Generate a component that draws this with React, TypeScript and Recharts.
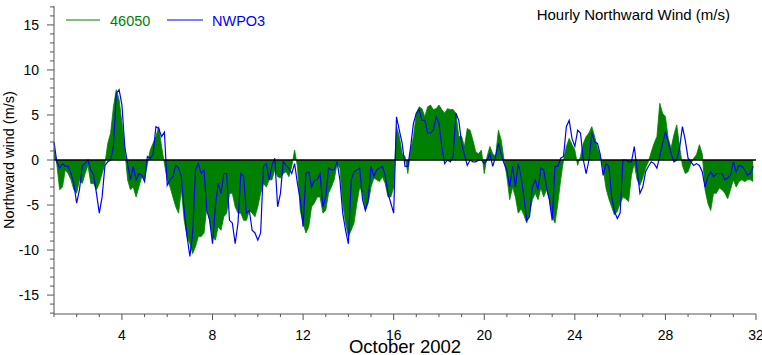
import React from 'react';
import { ComposedChart, Area, Line, XAxis, YAxis, ReferenceLine } from 'recharts';

// Hourly record resampled at 3 h: first sample is 1 Oct 00Z
const START_DAY = 1;
const STEP_DAYS = 0.125;

// Buoy 46050 northward wind (m/s), 8 samples per day, 1-31 Oct
const buoy46050: number[] = [
  1.3, -0.5, -3.3, -3.0, -1.1, -1.5, -2.2, -3.3,
  -3.7, -2.2, -2.6, -1.5, -0.6, -2.6, -2.6, -3.3,
  -2.6, -1.5, -0.4, 1.85, 3.0, 5.9, 7.8, 6.7,
  4.1, 1.1, -2.2, -3.3, -3.0, -4.1, -3.0, -1.85,
  -2.2, -0.4, 1.1, 1.85, 2.6, 3.7, 1.5, -0.4,
  -2.2, -3.0, -4.1, -5.2, -5.9, -3.3, -6.7, -8.5,
  -9.3, -10.4, -9.6, -8.5, -8.5, -8.1, -5.2, -6.7,
  -8.5, -8.9, -7.4, -7.8, -6.3, -5.9, -3.7, -3.7,
  -5.2, -5.9, -5.9, -6.7, -6.7, -5.6, -5.9, -6.3,
  -5.2, -3.7, -2.6, -3.0, -2.2, -2.2, -1.1, -1.85,
  -2.0, -1.5, -1.3, -1.85, -0.7, 1.1, -0.7, -5.6,
  -7.0, -8.1, -7.4, -5.2, -4.8, -4.1, -4.1, -5.9,
  -5.6, -3.7, -3.0, -2.2, -0.4, -0.9, -4.8, -7.0,
  -8.5, -7.8, -7.0, -4.8, -3.0, -3.7, -5.6, -4.8,
  -3.0, -2.0, -2.2, -2.4, -1.85, -2.6, -4.1, -4.1,
  -3.0, 3.7, 2.6, 0.7, 0.4, -1.5, 1.1, 2.6,
  5.2, 5.9, 5.7, 4.8, 5.9, 6.1, 5.6, 5.7,
  6.1, 5.6, 5.2, 5.7, 5.6, 5.6, 5.2, 2.6,
  2.6, 1.5, 3.5, 3.3, 2.2, 0.9, 0.7, 1.1,
  -1.5, 0.4, 1.5, 0.7, 0.4, 3.3, 2.2, 0,
  -1.85, -4.4, -3.0, -4.1, -5.9, -5.4, -6.1, -7.0,
  -5.9, -4.4, -3.7, -4.4, -3.1, -4.1, -3.3, -4.4,
  -6.3, -7.0, -4.8, -2.2, 0, 1.5, 2.4, 1.7,
  1.1, -0.6, 0.4, 1.85, 2.6, 3.0, 3.7, 2.6,
  1.3, 0.4, -0.9, -3.1, -4.3, -5.2, -6.1, -5.7,
  -4.8, -4.1, -4.3, -4.6, -1.7, -0.4, -2.2, -2.8,
  -2.0, -0.9, -0.2, 0.9, 1.85, 2.6, 6.3, 5.2,
  4.8, 2.4, 1.3, 2.8, 3.9, 1.5, -0.6, -1.5,
  -1.3, -0.4, 0.2, 0.6, 1.7, 0.7, -3.3, -4.8,
  -5.6, -3.7, -3.7, -3.1, -3.3, -3.7, -4.3, -3.3,
  -2.2, -3.0, -2.4, -2.2, -2.4, -2.2, -2.2, -2.4,
];

// NWPO3 (Newport) northward wind (m/s), same sampling
const nwpo3: number[] = [
  2.0, -0.2, -0.9, -0.4, -0.7, -0.7, -1.5, -2.6,
  -4.8, -3.3, -0.6, -0.4, 0, -1.1, -1.7, -3.7,
  -5.9, -4.1, -0.6, -0.2, 0, 1.5, 7.4, 7.8,
  6.1, 1.5, -0.4, -2.2, -0.7, -2.2, -1.5, -1.7,
  -2.4, 0.4, 0.2, 0.6, 3.7, 3.5, 2.6, 3.1,
  -2.8, -2.2, -1.85, -0.6, -0.9, -1.85, -5.6, -8.5,
  -10.7, -8.1, -1.1, -0.4, -1.5, -1.1, -5.6, -6.7,
  -9.3, -5.2, -2.6, -3.7, -1.5, -1.5, -6.7, -7.0,
  -9.3, -7.0, -1.5, -1.85, -5.9, -5.6, -7.8, -8.1,
  -8.9, -8.1, -0.7, -0.4, -2.2, -0.6, 0.2, -5.2,
  -3.7, -0.2, -0.6, -0.9, -1.5, -0.4, -2.6, -4.4,
  -7.4, -1.5, -1.3, -3.0, -2.2, -2.2, -1.5, -5.2,
  -4.1, -0.9, -1.1, -1.1, -0.2, -2.2, -5.9, -7.8,
  -9.3, -2.2, -1.3, -1.1, -0.9, -4.4, -5.6, -4.4,
  -0.7, -1.85, -1.1, -0.9, -0.7, -1.7, -3.7, -4.8,
  -5.9, 4.8, 3.3, 1.85, -0.7, -0.7, 1.5, 4.1,
  5.2, 5.6, 4.4, 4.4, 3.0, 3.0, 3.3, 4.8,
  4.1, 1.5, -0.4, 0, -0.2, 0.4, 5.2, 4.4,
  1.85, 0.6, -0.6, 0, -0.2, -0.2, 0, 0,
  -0.4, 0, 0.7, -0.7, 0.4, 1.85, 0.6, -0.4,
  -1.1, -3.0, -0.7, -3.0, -0.4, -1.85, -4.1, -6.7,
  -6.3, -3.0, -2.2, -3.3, -0.9, -1.1, -3.0, -4.4,
  -6.7, -0.7, -0.7, 0.2, 0.4, 3.7, 4.4, 2.4,
  1.5, 3.3, 3.0, 0, -1.5, 0, 3.0, 2.0,
  1.85, 0.6, -1.7, -0.4, -0.7, -4.1, -5.7, -6.5,
  -5.9, 0, 0, -0.2, -0.2, 1.5, -1.1, -3.7,
  -3.0, -1.3, -0.7, -0.2, -0.4, -0.9, 0.4, 1.85,
  3.1, 2.0, 0.7, -0.2, 0, 1.3, 3.7, 2.2,
  0.2, -0.2, -0.6, -0.4, -0.6, -1.3, -3.0, -1.85,
  -1.3, -1.85, -1.5, -1.5, -1.5, -2.2, -2.0, -1.7,
  -0.2, -1.3, -0.6, -0.7, -1.1, -1.7, -1.5, -0.7,
];

const dayTicks = [
  1, 2, 3, 4, 5, 6, 7, 8, 9, 10, 11, 12, 13, 14, 15, 16,
  17, 18, 19, 20, 21, 22, 23, 24, 25, 26, 27, 28, 29, 30, 31, 32,
];
const labeledDays = [4, 8, 12, 16, 20, 24, 28, 32];
const windTicks = [
  -17, -16, -15, -14, -13, -12, -11, -10, -9, -8, -7, -6, -5, -4, -3, -2, -1, 0,
  1, 2, 3, 4, 5, 6, 7, 8, 9, 10, 11, 12, 13, 14, 15, 16, 17,
];
const labeledWind = [-15, -10, -5, 0, 5, 10, 15];

const data = buoy46050.map((g, i) => ({
  day: START_DAY + i * STEP_DAYS,
  g,
  b: nwpo3[i],
}));

const FONT = '"Liberation Sans", Arial, Helvetica, sans-serif';
const AXIS = '#555';
const GREEN = '#008000';
const BLUE = '#0000ff';
const Y_DOMAIN = [-17.1, 17.1];

function BottomTick({ x, y, payload }: any) {
  const major = labeledDays.includes(payload.value);
  return (
    <g>
      <line x1={x} x2={x} y1={y} y2={y + (major ? 6 : 3)} stroke={AXIS} />
      {major && (
        <text x={x} y={y + 25.5} textAnchor="middle" fontSize={14} fontFamily={FONT} fill="#000">
          {payload.value}
        </text>
      )}
    </g>
  );
}

function TopTick({ x, y, payload }: any) {
  const major = labeledDays.includes(payload.value);
  return <line x1={x} x2={x} y1={y} y2={y - (major ? 6 : 3)} stroke={AXIS} />;
}

function LeftTick({ x, y, payload }: any) {
  const major = labeledWind.includes(payload.value);
  return (
    <g>
      <line x1={x} x2={x - (major ? 7 : 4)} y1={y} y2={y} stroke={AXIS} />
      {major && (
        <text x={x - 15} y={y + 5} textAnchor="end" fontSize={14} fontFamily={FONT} fill="#000">
          {payload.value}
        </text>
      )}
    </g>
  );
}

function RightTick({ x, y, payload }: any) {
  const major = labeledWind.includes(payload.value);
  return <line x1={x} x2={x + (major ? 7 : 4)} y1={y} y2={y} stroke={AXIS} />;
}

export default function App() {
  return (
    <div style={{ position: 'absolute', left: 0, top: 0, width: 762, height: 355, fontFamily: FONT }}>
      <ComposedChart
        width={762}
        height={355}
        data={data}
        margin={{ top: 6, right: 6, bottom: 0, left: 0 }}
      >
        <XAxis
          dataKey="day"
          type="number"
          domain={[1, 32]}
          ticks={dayTicks}
          interval={0}
          height={41}
          tickSize={0}
          tickMargin={0}
          tickLine={false}
          axisLine={{ stroke: AXIS }}
          tick={<BottomTick />}
        />
        <XAxis
          xAxisId="top"
          orientation="top"
          dataKey="day"
          type="number"
          domain={[1, 32]}
          ticks={dayTicks}
          interval={0}
          height={0}
          tickSize={0}
          tickMargin={0}
          tickLine={false}
          axisLine={{ stroke: AXIS }}
          tick={<TopTick />}
        />
        <YAxis
          type="number"
          domain={Y_DOMAIN}
          ticks={windTicks}
          interval={0}
          width={54}
          tickSize={0}
          tickMargin={0}
          tickLine={false}
          axisLine={{ stroke: AXIS }}
          tick={<LeftTick />}
          allowDataOverflow
        />
        <YAxis
          yAxisId="right"
          orientation="right"
          type="number"
          domain={Y_DOMAIN}
          ticks={windTicks}
          interval={0}
          width={0}
          tickSize={0}
          tickMargin={0}
          tickLine={false}
          axisLine={{ stroke: AXIS }}
          tick={<RightTick />}
          allowDataOverflow
        />
        <Area
          type="linear"
          dataKey="g"
          baseValue={0}
          stroke={GREEN}
          strokeWidth={0.8}
          fill={GREEN}
          fillOpacity={1}
          isAnimationActive={false}
        />
        <Line
          type="linear"
          dataKey="b"
          stroke={BLUE}
          strokeWidth={1.2}
          dot={false}
          isAnimationActive={false}
        />
        <ReferenceLine y={0} stroke="#000" strokeWidth={1.6} />
      </ComposedChart>
      <svg
        width={762}
        height={355}
        style={{ position: 'absolute', left: 0, top: 0, pointerEvents: 'none' }}
        fontFamily={FONT}
      >
        <line x1={66} x2={100} y1={20} y2={20} stroke={GREEN} strokeWidth={1.2} />
        <text x={110} y={26} fontSize={14.5} fill={GREEN}>46050</text>
        <line x1={167} x2={203} y1={20} y2={20} stroke={BLUE} strokeWidth={1.2} />
        <text x={212} y={26} fontSize={14.5} fill={BLUE}>NWPO3</text>
        <text x={730} y={19.5} fontSize={15} textAnchor="end" fill="#000">
          Hourly Northward Wind (m/s)
        </text>
        <text
          x={14}
          y={160}
          fontSize={14.5}
          textAnchor="middle"
          fill="#000"
          transform="rotate(-90 14 160)"
        >
          Northward wind (m/s)
        </text>
        <text x={405} y={353} fontSize={18.5} textAnchor="middle" fill="#000">
          October 2002
        </text>
      </svg>
    </div>
  );
}
